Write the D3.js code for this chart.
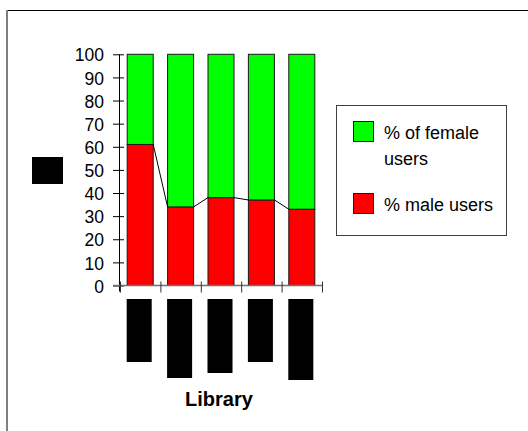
<!DOCTYPE html>
<html>
<head>
<meta charset="utf-8">
<script src="https://cdn.jsdelivr.net/npm/d3@7"></script>
<style>
  html, body { margin: 0; padding: 0; background: #fff; }
  svg { display: block; }
  text { font-family: "Liberation Sans", Arial, sans-serif; fill: #000; }
</style>
</head>
<body>
<svg id="chart" width="528" height="431"></svg>
<script>
// Library user gender split (percent)
const categories = ["L1", "L2", "L3", "L4", "L5"];
const maleValues = [61, 34, 38, 37, 33];
const femaleValues = [39, 66, 62, 63, 67];
const yTicks = [0, 10, 20, 30, 40, 50, 60, 70, 80, 90, 100];
const seriesNames = ["% of female users", "% male users"];
const xTitle = "Library";
// lengths of the masked category label blocks
const labelBlockLengths = [63, 79, 74, 63, 81];

const svg = d3.select("#chart");

// chart-area frame
svg.append("line").attr("x1", 7).attr("x2", 528).attr("y1", 10.5).attr("y2", 10.5)
  .attr("stroke", "#000").attr("stroke-width", 1);
svg.append("line").attr("x1", 7).attr("x2", 7).attr("y1", 10).attr("y2", 431)
  .attr("stroke", "#808080").attr("stroke-width", 2);

const x = d3.scaleBand().domain(categories).range([120, 322])
  .paddingInner(0.356).paddingOuter(0.178);
const xEdges = d3.scaleLinear().domain([0, categories.length]).range([120, 322]);
const y = d3.scaleLinear().domain([0, 100]).range([285.5, 54.3]);

// stacked bars
const stackData = categories.map((c, i) => ({ cat: c, male: maleValues[i], female: femaleValues[i] }));
const stack = d3.stack().keys(["male", "female"])(stackData);
const colors = { male: "#ff0000", female: "#00ff00" };

svg.append("g").selectAll("g").data(stack).join("g")
  .attr("fill", d => colors[d.key])
  .selectAll("rect").data(d => d).join("rect")
  .attr("x", d => x(d.data.cat))
  .attr("width", x.bandwidth())
  .attr("y", d => y(d[1]))
  .attr("height", d => y(d[0]) - y(d[1]))
  .attr("stroke", "#1a1a1a").attr("stroke-width", 1);

// series lines joining the tops of the male segments
const links = d3.pairs(stackData);
svg.append("g").selectAll("line").data(links).join("line")
  .attr("x1", d => x(d[0].cat) + x.bandwidth())
  .attr("y1", d => y(d[0].male))
  .attr("x2", d => x(d[1].cat))
  .attr("y2", d => y(d[1].male))
  .attr("stroke", "#000").attr("stroke-width", 1);

// y axis
const yAxis = svg.append("g").attr("transform", "translate(119,0)")
  .call(d3.axisLeft(y).tickValues(yTicks).tickSize(6).tickPadding(9));
yAxis.select(".domain").attr("stroke", "#000").attr("d", "M0.5," + y(100) + "V" + (y(0) + 6));
yAxis.selectAll(".tick line").attr("x1", 5).attr("stroke", "#000");
yAxis.selectAll(".tick text").attr("font-size", 17.5).attr("dy", "0.38em")
  .style("font-family", "'Liberation Sans', Arial, sans-serif");

// x axis (ticks on category boundaries)
const xAxis = svg.append("g").attr("transform", "translate(0," + y(0) + ")")
  .call(d3.axisBottom(xEdges).tickValues(d3.range(categories.length + 1)).tickSize(7).tickFormat(""));
xAxis.select(".domain").attr("stroke", "#707070").attr("stroke-width", 1.5)
  .attr("d", "M113," + 0 + "H322");
xAxis.selectAll(".tick line").attr("y1", -4).attr("stroke", "#333");

// masked category labels
svg.append("g").selectAll("rect").data(categories).join("rect")
  .attr("x", d => x(d) - 0.5)
  .attr("y", 299)
  .attr("width", x.bandwidth() - 1)
  .attr("height", (d, i) => labelBlockLengths[i])
  .attr("fill", "#000");

// masked y-axis title
svg.append("rect").attr("x", 32).attr("y", 157).attr("width", 31).attr("height", 27).attr("fill", "#000");

// x-axis title
svg.append("text").attr("x", 219).attr("y", 406).attr("text-anchor", "middle")
  .attr("font-size", 20).attr("font-weight", "bold").text(xTitle);

// legend
const legend = svg.append("g");
legend.append("rect").attr("x", 336.5).attr("y", 105.5).attr("width", 170).attr("height", 130)
  .attr("fill", "#fff").attr("stroke", "#404040").attr("stroke-width", 1);
const legendItems = [
  { color: colors.female, lines: ["% of female", "users"], y: 121.5 },
  { color: colors.male, lines: ["% male users"], y: 193.5 }
];
legendItems.forEach((it, i) => {
  legend.append("rect").attr("x", 353.5).attr("y", it.y).attr("width", 20).attr("height", 20)
    .attr("fill", it.color).attr("stroke", "#1a1a1a");
  const t = legend.append("text").attr("x", 384).attr("y", it.y + 17.5).attr("font-size", 18);
  it.lines.forEach((ln, j) => {
    t.append("tspan").attr("x", 384).attr("dy", j === 0 ? 0 : 25.7).text(ln);
  });
});
</script>
</body>
</html>
